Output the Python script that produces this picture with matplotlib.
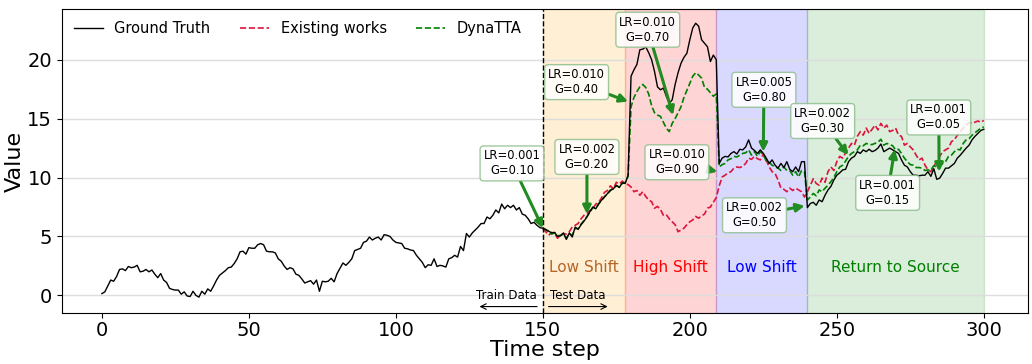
import matplotlib
matplotlib.use("Agg")
import matplotlib.pyplot as plt
import numpy as np

# ---- data ----
steps = np.arange(0, 301)
test_steps = np.arange(150, 301)

ground_truth = [
    0.15, 0.3, 0.8, 1.3, 1.2, 1.6, 2.2, 2.25, 2.1, 2.45,
    2.35, 2.4, 2.55, 2.0, 2.05, 2.2, 2.0, 2.15, 1.8, 1.5,
    1.85, 1.3, 1.1, 0.6, 0.5, 0.45, 0.45, 0.1, 0.3, -0.05,
    -0.1, 0.35, 0.0, -0.15, 0.35, 0.1, 0.55, 0.35, 0.8, 1.3,
    1.7, 1.9, 2.1, 2.35, 2.4, 2.7, 3.1, 3.7, 3.75, 3.5,
    4.05, 4.0, 4.0, 4.3, 4.4, 4.3, 3.75, 3.7, 3.7, 3.6,
    3.1, 2.9, 2.5, 2.2, 2.35, 2.25, 1.8, 1.7, 1.4, 1.05,
    1.15, 1.25, 0.95, 1.3, 0.35, 1.2, 1.15, 1.2, 1.45, 1.15,
    1.85, 2.3, 2.75, 2.55, 2.8, 3.1, 3.8, 3.9, 4.0, 4.5,
    4.6, 4.95, 4.7, 4.85, 4.95, 4.7, 5.15, 5.1, 5.0, 4.7,
    4.5, 4.45, 4.4, 4.0, 3.95, 3.85, 3.8, 3.4, 3.1, 2.8,
    2.35, 2.6, 2.55, 3.1, 2.45, 2.55, 2.5, 2.4, 3.1, 3.2,
    3.4, 3.25, 4.15, 3.8, 5.25, 4.95, 5.3, 5.55, 5.8, 6.1,
    6.1, 6.65, 6.5, 6.8, 7.25, 7.0, 7.75, 7.35, 7.65, 7.45,
    7.65, 7.25, 7.45, 6.9, 6.8, 6.5, 6.1, 6.2, 5.95, 5.75,
    5.7, 5.6, 5.45, 5.3, 5.35, 5.0, 5.05, 5.3, 4.75, 5.3,
    4.95, 5.8, 5.6, 6.0, 6.3, 6.65, 7.1, 7.5, 7.35, 7.75,
    8.1, 8.35, 8.65, 8.9, 9.05, 9.35, 9.15, 9.55, 9.5, 10.2,
    18.6, 19.15, 19.6, 20.85, 20.9, 21.1, 20.6, 20.0, 19.0, 17.7,
    17.45, 17.6, 16.9, 16.3, 16.6, 17.9, 18.9, 19.7, 20.2, 20.55,
    21.7, 22.7, 23.1, 22.85, 21.7, 21.4, 21.1, 19.85, 20.4, 20.0,
    11.2, 11.65, 11.8, 11.75, 12.05, 12.2, 12.0, 12.4, 12.35, 12.6,
    13.2, 12.5, 12.3, 12.05, 12.35, 12.05, 11.65, 11.2, 11.5, 11.05,
    10.8, 11.2, 10.85, 11.35, 10.7, 10.5, 10.9, 10.5, 11.35, 11.35,
    7.45, 7.8, 7.9, 7.65, 8.1, 7.95, 8.5, 8.95, 9.25, 9.8,
    10.2, 10.4, 10.65, 10.7, 11.35, 11.65, 11.8, 12.2, 12.05, 12.35,
    12.2, 12.4, 12.2, 12.3, 12.5, 12.85, 12.2, 12.35, 12.5, 12.35,
    12.2, 12.05, 11.5, 11.05, 10.9, 10.5, 10.2, 10.2, 10.15, 10.2,
    10.2, 10.5, 10.1, 10.75, 9.85, 9.95, 10.35, 10.8, 10.8, 11.0,
    11.2, 11.65, 11.9, 12.2, 12.5, 12.75, 13.2, 13.5, 13.75, 14.0,
    14.1,
]

existing_works = [
    5.65, 5.4, 5.1, 5.35, 5.25, 4.85, 5.1, 5.25, 5.2, 5.4,
    5.8, 5.95, 6.1, 6.5, 6.8, 6.95, 7.2, 7.35, 7.75, 7.9,
    8.3, 8.75, 8.9, 9.3, 9.05, 9.6, 9.45, 9.7, 9.5, 9.4,
    9.2, 8.8, 8.9, 8.5, 8.8, 8.4, 8.1, 7.95, 7.4, 7.55,
    7.3, 6.8, 6.85, 6.5, 6.25, 6.0, 5.4, 5.55, 5.7, 6.0,
    6.25, 6.4, 6.7, 6.55, 6.75, 6.9, 7.4, 7.5, 7.9, 8.3,
    9.3, 10.05, 10.2, 10.4, 10.5, 10.8, 10.9, 10.85, 10.95, 11.2,
    11.65, 11.55, 11.8, 11.6, 11.5, 12.0, 11.5, 10.9, 10.5, 10.35,
    9.8, 9.1, 9.0, 8.8, 9.1, 8.9, 9.1, 8.95, 8.8, 8.35,
    8.8, 9.35, 9.9, 9.5, 9.35, 9.95, 9.6, 10.5, 10.9, 10.6,
    11.35, 11.8, 11.65, 12.1, 12.5, 12.9, 12.75, 13.5, 13.9, 13.6,
    14.2, 13.75, 14.1, 14.45, 14.05, 14.6, 14.2, 14.45, 13.9, 14.0,
    14.2, 13.6, 13.5, 12.75, 12.9, 12.6, 12.35, 11.9, 11.5, 11.65,
    11.05, 10.65, 10.5, 10.95, 11.35, 11.8, 12.2, 12.35, 12.5, 13.05,
    13.2, 13.6, 13.9, 14.2, 14.45, 14.65, 14.6, 14.7, 14.8, 14.7,
    14.85,
]

dynatta = [
    5.7, 5.55, 5.4, 5.2, 5.3, 5.05, 5.1, 5.2, 4.85, 5.25,
    5.1, 5.7, 5.65, 6.05, 6.35, 6.7, 7.05, 7.45, 7.4, 7.8,
    8.05, 8.4, 8.6, 8.95, 9.1, 9.3, 9.2, 9.5, 9.55, 10.1,
    16.0, 16.8, 17.3, 17.7, 17.9, 17.65, 17.1, 16.1, 15.5, 15.3,
    15.2, 14.7, 14.2, 13.9, 14.6, 15.0, 15.5, 16.0, 16.8, 17.4,
    18.0, 18.6, 18.9, 18.7, 18.45, 17.65, 17.5, 17.2, 16.9, 17.1,
    10.9, 11.1, 11.2, 11.5, 11.6, 11.8, 11.75, 11.9, 12.05, 12.1,
    12.35, 11.9, 12.2, 11.8, 12.2, 11.95, 11.4, 11.3, 11.05, 10.9,
    10.8, 10.6, 10.9, 10.6, 10.6, 10.2, 10.5, 10.05, 10.6, 10.5,
    8.1, 8.35, 8.65, 8.45, 8.95, 8.8, 9.1, 9.35, 9.65, 10.0,
    10.5, 10.9, 11.05, 11.4, 11.8, 12.05, 12.2, 12.35, 12.75, 12.7,
    12.9, 12.8, 12.8, 12.9, 13.0, 13.25, 12.75, 12.9, 12.8, 12.7,
    12.35, 12.4, 12.05, 11.65, 11.35, 11.1, 11.05, 10.85, 10.85, 10.8,
    10.6, 10.65, 10.65, 11.0, 10.9, 10.95, 11.2, 11.35, 11.8, 11.9,
    12.2, 12.4, 12.35, 12.9, 13.2, 13.3, 13.6, 13.8, 14.0, 14.2,
    14.3,
]

# regions: (start, end, face colour, label, label colour)
regions = [
    (150, 178, "orange", "Low Shift", "#b5652a"),
    (178, 209, "red", "High Shift", "red"),
    (209, 240, "blue", "Low Shift", "blue"),
    (240, 300, "green", "Return to Source", "green"),
]
region_alpha = [0.17, 0.17, 0.15, 0.14]

# annotations: text, text position (step, value), arrow target (step, value)
annotations = [
    ("LR=0.001\nG=0.10", (139.5, 11.2), (150, 5.7)),
    ("LR=0.002\nG=0.20", (165, 11.75), (165, 6.9)),
    ("LR=0.010\nG=0.40", (161.5, 18.1), (179, 16.45)),
    ("LR=0.010\nG=0.70", (185.7, 22.55), (194.3, 15.3)),
    ("LR=0.010\nG=0.90", (195.6, 11.3), (209.4, 10.5)),
    ("LR=0.005\nG=0.80", (225.2, 17.45), (225, 12.2)),
    ("LR=0.002\nG=0.50", (222, 6.8), (239.1, 7.6)),
    ("LR=0.002\nG=0.30", (245.2, 14.8), (253.9, 11.9)),
    ("LR=0.001\nG=0.15", (267.3, 8.7), (269.7, 12.4)),
    ("LR=0.001\nG=0.05", (284.7, 15.1), (284.8, 10.5)),
]

fig = plt.figure(figsize=(10.32, 3.64), dpi=100)
ax = fig.add_axes([0.060, 0.140, 0.936, 0.835])

for (a, b, c, lab, tc), al in zip(regions, region_alpha):
    ax.axvspan(a, b, color=c, alpha=al, zorder=0)
    ax.text((a + b) / 2, 2.4, lab, color=tc, fontsize=11, ha="center", va="center")

ax.plot(steps, ground_truth, color="black", lw=1.0, label="Ground Truth", zorder=3)
ax.plot(test_steps, existing_works, color="crimson", lw=1.2, ls="--", label="Existing works", zorder=2)
ax.plot(test_steps, dynatta, color="green", lw=1.2, ls="--", label="DynaTTA", zorder=2)

ax.axvline(150, color="black", ls="--", lw=1.0, zorder=4)

for txt, tpos, target in annotations:
    ax.annotate(txt, xy=target, xytext=tpos, fontsize=8.3, ha="center", va="center",
                bbox=dict(boxstyle="round,pad=0.3", fc="white", ec="#8fbf8f", alpha=0.85),
                arrowprops=dict(arrowstyle="-|>", color="forestgreen", lw=2.2,
                                mutation_scale=12, shrinkA=0, shrinkB=0),
                zorder=6)

# train / test markers
ax.text(137.5, 0.0, "Train Data", fontsize=8.5, ha="center", va="center")
ax.text(162, 0.0, "Test Data", fontsize=8.5, ha="center", va="center")
ax.annotate("", xy=(127.5, -0.95), xytext=(149, -0.95),
            arrowprops=dict(arrowstyle="->", color="black", lw=0.8))
ax.annotate("", xy=(173, -0.95), xytext=(151, -0.95),
            arrowprops=dict(arrowstyle="->", color="black", lw=0.8))

ax.set_xlim(-13.6, 315)
ax.set_ylim(-1.5, 24.3)
ax.set_yticks([0, 5, 10, 15, 20])
ax.set_xticks([0, 50, 100, 150, 200, 250, 300])
ax.tick_params(labelsize=14)
ax.tick_params(axis="x", pad=2)
ax.yaxis.grid(True, color="#dddddd", lw=1)
ax.set_axisbelow(True)
ax.set_xlabel("Time step", fontsize=16, labelpad=0)
ax.set_ylabel("Value", fontsize=16, labelpad=2)
ax.legend(loc="upper left", ncol=3, frameon=False, fontsize=10.5, handlelength=2.0,
          columnspacing=2.0, borderaxespad=0.4)

fig.savefig("out.png", dpi=100)
